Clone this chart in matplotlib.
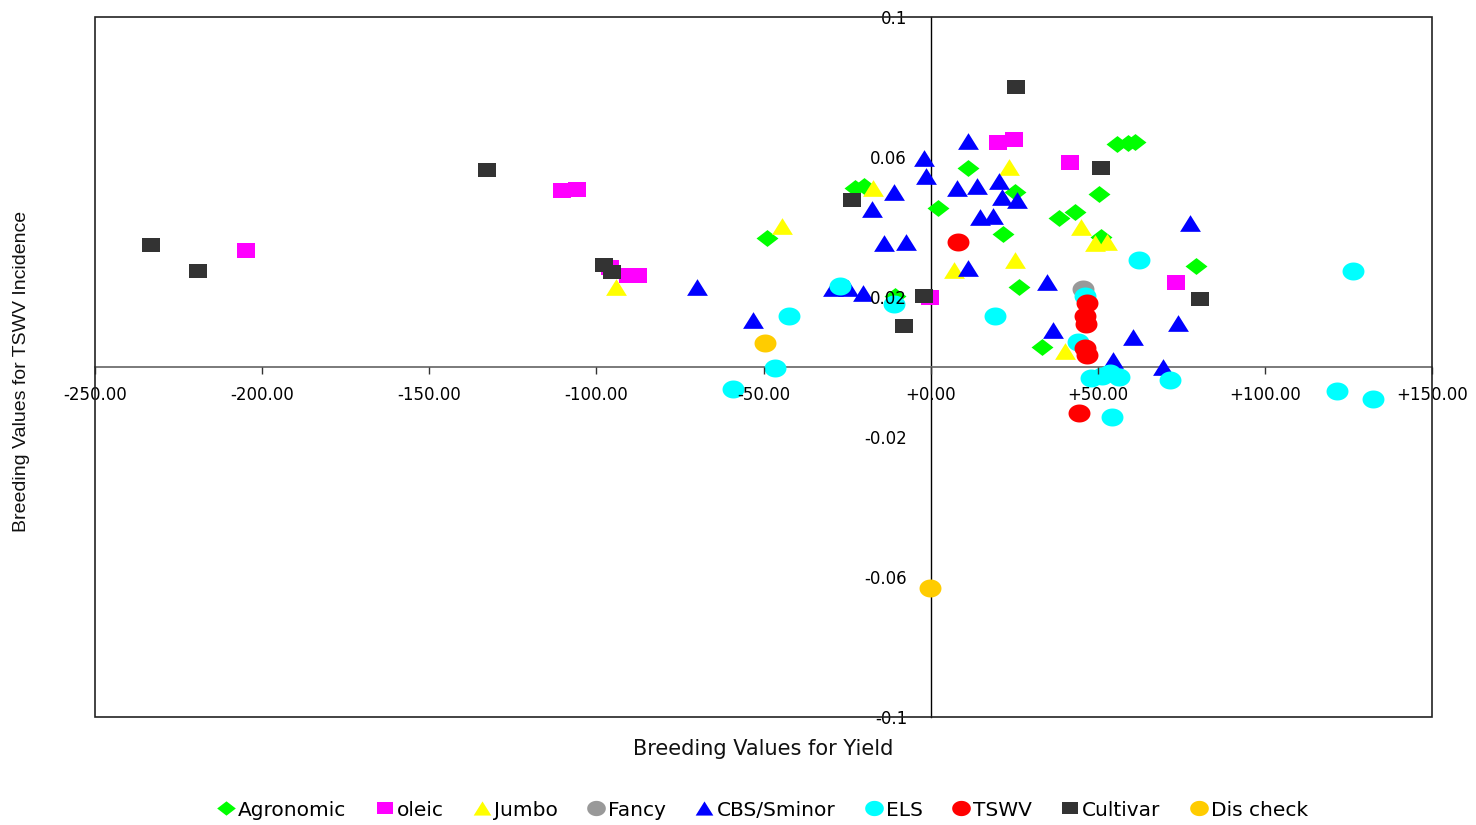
import matplotlib
matplotlib.use("Agg")
import matplotlib.pyplot as plt
from matplotlib.path import Path
from matplotlib.patches import Rectangle
from matplotlib.lines import Line2D
import numpy as np

# Breeding values: x = yield, y = TSWV incidence
agronomic_x = [-48.9, -22.6, -19.9, -10.7, 2.2, 11.2, 21.7, 25.3, 26.4, 33.3, 38.4, 43.2, 50.4, 51.0, 55.8, 59.1, 61.2, 79.4]
agronomic_y = [0.0369, 0.0511, 0.0517, 0.0203, 0.0454, 0.0569, 0.0380, 0.0500, 0.0229, 0.0057, 0.0426, 0.0443, 0.0494, 0.0371, 0.0637, 0.0640, 0.0643, 0.0289]

oleic_x = [-204.8, -110.3, -105.8, -95.9, -90.5, -87.5, -0.2, 20.2, 25.0, 41.7, 73.4]
oleic_y = [0.0334, 0.0506, 0.0509, 0.0286, 0.0263, 0.0263, 0.0200, 0.0643, 0.0651, 0.0586, 0.0243]

jumbo_x = [-94.1, -44.5, -17.2, 7.0, 23.5, 25.3, 40.2, 45.0, 49.2, 52.8]
jumbo_y = [0.0229, 0.0403, 0.0511, 0.0277, 0.0571, 0.0306, 0.0046, 0.0400, 0.0354, 0.0357]

fancy_x = [45.6]
fancy_y = [0.0223]

cbs_x = [-69.9, -53.1, -29.2, -24.7, -20.2, -17.5, -13.9, -7.4, -10.9, -2.0, -1.4, 7.9, 11.2, 13.9, 11.2,
         14.8, 18.7, 20.5, 21.4, 25.8, 34.8, 36.6, 54.6, 60.6, 69.5, 74.0, 77.6]
cbs_y = [0.0229, 0.0134, 0.0226, 0.0226, 0.0211, 0.0451, 0.0354, 0.0357, 0.0500, 0.0597, 0.0546, 0.0511, 0.0646, 0.0517, 0.0283,
         0.0429, 0.0431, 0.0531, 0.0486, 0.0477, 0.0243, 0.0106, 0.0020, 0.0086, 0.0000, 0.0126, 0.0411]

els_x = [-59.1, -46.6, -42.4, -27.1, -10.9, 19.3, 62.3, 126.4, 121.6, 132.4, 71.6, 54.3, 46.2, 44.1, 48.0, 51.3, 53.7, 56.4]
els_y = [-0.0063, -0.0003, 0.0146, 0.0231, 0.0180, 0.0146, 0.0306, 0.0274, -0.0069, -0.0091, -0.0037, -0.0143, 0.0203, 0.0071, -0.0031, -0.0026, -0.0017, -0.0029]

tswv_x = [8.2, 46.8, 46.2, 46.5, 46.2, 46.8, 44.4]
tswv_y = [0.0357, 0.0183, 0.0146, 0.0123, 0.0054, 0.0034, -0.0131]

cultivar_x = [-233.2, -219.2, -132.7, -97.7, -95.3, -23.5, -8.0, -2.0, 25.5, 51.0, 80.6]
cultivar_y = [0.0349, 0.0274, 0.0563, 0.0291, 0.0271, 0.0477, 0.0117, 0.0203, 0.0800, 0.0569, 0.0194]

dischk_x = [-49.5, -0.2]
dischk_y = [0.0069, -0.0631]

x_ticks = [-250, -200, -150, -100, -50, 0, 50, 100, 150]
y_ticks = [-0.1, -0.06, -0.02, 0.02, 0.06, 0.1]
y_tick_labels = ["-0.1", "-0.06", "-0.02", "0.02", "0.06", "0.1"]


def make_marker(verts):
    verts = list(verts) + [verts[0]]
    codes = [Path.MOVETO] + [Path.LINETO] * (len(verts) - 2) + [Path.CLOSEPOLY]
    return Path(verts, codes)


diamond = make_marker([(0, 1), (1.3, 0), (0, -1), (-1.3, 0)])
triangle = make_marker([(-1.25, -1), (1.25, -1), (0, 1)])
rect = make_marker([(-1.25, -1), (1.25, -1), (1.25, 1), (-1.25, 1)])
t = np.linspace(0, 2 * np.pi, 60)
ellipse = make_marker(list(zip(1.22 * np.cos(t[:-1]), np.sin(t[:-1]))))

series = [
    ("Agronomic", agronomic_x, agronomic_y, diamond, "#00FF00", 15.8),
    ("oleic", oleic_x, oleic_y, rect, "#FF00FF", 13.5),
    ("Jumbo", jumbo_x, jumbo_y, triangle, "#FFFF00", 15.0),
    ("Fancy", fancy_x, fancy_y, ellipse, "#999999", 15.8),
    ("CBS/Sminor", cbs_x, cbs_y, triangle, "#0000FF", 15.0),
    ("ELS", els_x, els_y, ellipse, "#00FFFF", 15.8),
    ("TSWV", tswv_x, tswv_y, ellipse, "#FF0000", 15.8),
    ("Cultivar", cultivar_x, cultivar_y, rect, "#333333", 13.0),
    ("Dis check", dischk_x, dischk_y, ellipse, "#FFCC00", 15.8),
]

fig = plt.figure(figsize=(14.76, 8.25), dpi=100)
ax = fig.add_axes([95 / 1476, 1 - 717 / 825, 1337 / 1476, 700 / 825])

handles = []
for name, xs, ys, mk, col, ms in series:
    ax.plot(xs, ys, linestyle="none", marker=mk, markersize=ms,
            markerfacecolor=col, markeredgewidth=0, color=col, zorder=3)
    handles.append(Line2D([], [], linestyle="none", marker=mk, markersize=ms * 0.85,
                          markerfacecolor=col, markeredgewidth=0, label=name))

ax.set_xlim(-250, 150)
ax.set_ylim(-0.1, 0.1)

# axes cross at zero, full box round the plot
ax.spines["left"].set_position(("data", 0))
ax.spines["bottom"].set_position(("data", 0))
ax.spines["top"].set_visible(False)
ax.spines["right"].set_visible(False)
ax.spines["left"].set_color("black")
ax.spines["left"].set_linewidth(1.0)
ax.spines["bottom"].set_color("#707070")
ax.spines["bottom"].set_linewidth(1.3)
ax.add_patch(Rectangle((0, 0), 1, 1, transform=ax.transAxes, fill=False,
                       edgecolor="#222222", linewidth=1.2, zorder=5, clip_on=False))

ax.set_xticks(x_ticks)
ax.set_xticklabels([f"{v:+.2f}" if v > 0 else (f"{v:.2f}" if v < 0 else "+0.00") for v in x_ticks])
ax.set_yticks(y_ticks)
ax.set_yticklabels(y_tick_labels)
ax.tick_params(axis="x", direction="out", length=5, width=1, color="#333333",
               labelsize=12, pad=9)
ax.tick_params(axis="y", direction="out", length=0, labelsize=12, pad=17)
ax.xaxis.set_zorder(4)
ax.yaxis.set_zorder(4)

fig.text(763 / 1476, 1 - 749 / 825, "Breeding Values for Yield", ha="center", va="center",
         fontsize=15, color="#111111")
fig.text(22 / 1476, 1 - 371 / 825, "Breeding Values for TSWV Incidence", ha="center", va="center",
         rotation=90, fontsize=14, family="Liberation Sans", color="#111111")

fig.legend(handles=handles, loc="center", bbox_to_anchor=(761 / 1476, 1 - 810 / 825), ncol=9,
           frameon=False, handletextpad=0.0, columnspacing=1.3, handlelength=1.2, fontsize=14.5)

fig.savefig("out.png", dpi=100)
